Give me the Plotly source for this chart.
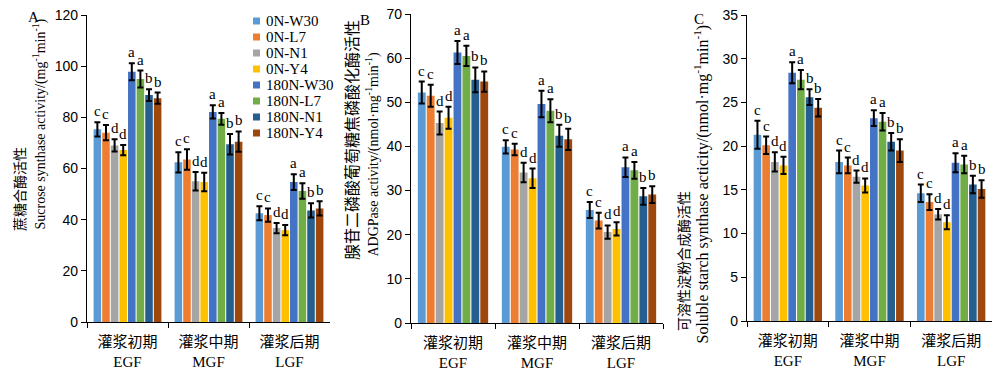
import plotly.graph_objects as go

series = ["0N-W30", "0N-L7", "0N-N1", "0N-Y4", "180N-W30", "180N-L7", "180N-N1", "180N-Y4"]
colors = ["#5B9BD5", "#ED7D31", "#A5A5A5", "#FFC000", "#4472C4", "#70AD47", "#255E91", "#9E480E"]
stages = ["EGF", "MGF", "LGF"]
stage_labels = ["灌浆初期<br>EGF", "灌浆中期<br>MGF", "灌浆后期<br>LGF"]
letters = ["c", "c", "d", "d", "a", "a", "b", "b"]

# Panel A: sucrose synthase activity (per series: EGF, MGF, LGF)
sus_mean = [
    [75.3, 62.4, 42.5], [74.0, 63.5, 41.8], [69.0, 55.0, 36.7], [67.2, 54.7, 35.9],
    [97.8, 82.1, 54.7], [95.0, 79.4, 51.2], [88.7, 69.5, 43.6], [87.5, 70.5, 44.4],
]
sus_err = [
    [2.8, 4.0, 2.7], [3.0, 4.0, 2.6], [2.4, 3.6, 2.0], [2.0, 3.6, 2.0],
    [3.3, 2.6, 3.1], [3.3, 2.3, 3.0], [2.3, 4.0, 2.8], [2.2, 4.0, 2.8],
]
# Panel B: ADGPase activity
adg_mean = [
    [52.2, 39.9, 25.6], [51.5, 39.3, 23.2], [45.3, 34.1, 20.6], [46.5, 32.8, 21.3],
    [61.3, 49.6, 35.3], [60.5, 48.1, 34.6], [55.1, 42.4, 28.7], [54.7, 41.6, 29.1],
]
adg_err = [
    [2.5, 1.5, 1.8], [2.5, 1.3, 1.8], [2.6, 2.2, 1.5], [2.5, 2.2, 1.5],
    [2.6, 3.0, 2.2], [2.3, 2.6, 1.9], [2.8, 2.5, 1.9], [2.3, 2.4, 1.9],
]
# Panel C: soluble starch synthase activity
sss_mean = [
    [21.3, 18.2, 14.6], [20.1, 17.8, 13.6], [18.2, 16.5, 12.2], [17.8, 15.5, 11.3],
    [28.4, 23.2, 18.1], [27.6, 22.8, 17.9], [25.6, 20.5, 15.6], [24.4, 19.5, 15.1],
]
sss_err = [
    [1.6, 1.3, 1.0], [1.0, 0.9, 0.9], [1.1, 0.7, 0.6], [1.0, 0.8, 0.8],
    [1.2, 0.9, 1.1], [1.1, 1.0, 1.0], [0.9, 1.0, 1.0], [1.0, 1.3, 1.0],
]

# The page body has a default 8 px margin: the figure starts at page (8, 8).
OFF = 8
W, H = 1000 - OFF, 373 - OFF
def px(x): return (x - OFF) / W
def py(y): return 1 - (y - OFF) / H

SERIF = "Times New Roman, Liberation Serif, Noto Sans CJK SC"
SANS = "Arial, Liberation Sans, Noto Sans CJK SC"

panels = [
    dict(mean=sus_mean, err=sus_err, xd=[px(87), px(330)], yd=[py(322), py(15)], rng=[0, 120], dt=20,
         label="A", lab_xy=(33, 17),
         ti_cn="蔗糖合酶活性", cn_xy=(20, 233), cn_size=14,
         ti_en="Sucrose synthase activity/(mg<sup>-1</sup>min<sup>-1</sup>)", en_xy=(40, 232), en_size=14),
    dict(mean=adg_mean, err=adg_err, xd=[px(411), px(663)], yd=[py(323), py(14)], rng=[0, 70], dt=10,
         label="B", lab_xy=(365, 20),
         ti_cn="腺苷二磷酸葡萄糖焦磷酸化酶活性", cn_xy=(352, 262), cn_size=16,
         ti_en="ADGPase activity/(nmol·mg<sup>-1</sup>min<sup>-1</sup>)", en_xy=(373, 259), en_size=14),
    dict(mean=sss_mean, err=sss_err, xd=[px(747), px(992)], yd=[py(321), py(15)], rng=[0, 35], dt=5,
         label="C", lab_xy=(699, 19),
         ti_cn="可溶性淀粉合成酶活性", cn_xy=(684, 333), cn_size=14,
         ti_en="Soluble starch synthase acticity/(nmol·mg<sup>-1</sup>min<sup>-1</sup>)", en_xy=(702, 346),
         en_size=16),
]

BARGAP = 0.15
GROUPGAP = 0.12
nser = len(series)

fig = go.Figure()
annotations = []
shapes = []

for p_i, p in enumerate(panels):
    suffix = "" if p_i == 0 else str(p_i + 1)
    xa, ya = "x" + suffix, "y" + suffix
    slot = (1 - BARGAP) / nser
    for k, name in enumerate(series):
        fig.add_trace(go.Bar(
            x=stages, y=p["mean"][k], name=name, marker_color=colors[k],
            marker_line_width=0, showlegend=False, xaxis=xa, yaxis=ya,
            error_y=dict(type="data", array=p["err"][k], color="black", thickness=2, width=3),
        ))
        # significance letters above error bars
        for c_i in range(len(stages)):
            xpos = c_i - (1 - BARGAP) / 2 + slot * (k + 0.5)
            annotations.append(dict(
                x=xpos, y=p["mean"][k][c_i] + p["err"][k][c_i], xref=xa, yref=ya,
                text=letters[k], showarrow=False, xanchor="center", yanchor="bottom", yshift=1,
                font=dict(family=SERIF, size=15, color="black"),
            ))
    fig.layout["xaxis" + suffix] = dict(
        domain=p["xd"], anchor=ya, type="category", tickvals=stages, ticktext=stage_labels,
        tickson="boundaries", ticks="outside", ticklen=5, tickcolor="black",
        ticklabelstandoff=6, automargin=False, ticklabeloverflow="allow",
        showline=True, linecolor="black", linewidth=1.2, showgrid=False,
        tickfont=dict(family=SERIF, size=15, color="black"),
    )
    fig.layout["yaxis" + suffix] = dict(
        domain=p["yd"], anchor=xa, range=p["rng"], dtick=p["dt"], ticks="outside", ticklen=5,
        automargin=False, ticklabeloverflow="allow",
        tickcolor="black", showline=True, linecolor="black", linewidth=1.2, showgrid=False,
        zeroline=False, tickfont=dict(family=SANS, size=14, color="black"),
    )
    annotations.append(dict(x=px(p["lab_xy"][0]), y=py(p["lab_xy"][1]), xref="paper", yref="paper",
                            text=p["label"], showarrow=False, xanchor="center", yanchor="middle",
                            font=dict(family=SERIF, size=15, color="black")))
    annotations.append(dict(x=px(p["cn_xy"][0]), y=py(p["cn_xy"][1]), xref="paper", yref="paper",
                            text=p["ti_cn"], textangle=-90, showarrow=False, xanchor="center",
                            yanchor="bottom", font=dict(family=SERIF, size=p["cn_size"], color="black")))
    annotations.append(dict(x=px(p["en_xy"][0]), y=py(p["en_xy"][1]), xref="paper", yref="paper",
                            text=p["ti_en"], textangle=-90, showarrow=False, xanchor="center",
                            yanchor="bottom", font=dict(family=SERIF, size=p["en_size"], color="black")))

# manual legend (panel A, top right)
for k, name in enumerate(series):
    yc = 21 + 16 * k
    shapes.append(dict(type="rect", xref="paper", yref="paper",
                       x0=px(253), x1=px(260), y0=py(yc + 3.5), y1=py(yc - 3.5),
                       fillcolor=colors[k], line_width=0))
    annotations.append(dict(x=px(264), y=py(yc), xref="paper", yref="paper", text=name,
                            showarrow=False, xanchor="left", yanchor="middle",
                            font=dict(family=SERIF, size=15, color="black")))

fig.update_layout(
    width=W, height=H, autosize=False, margin=dict(l=0, r=0, t=0, b=0, autoexpand=False),
    paper_bgcolor="white", plot_bgcolor="white",
    barmode="group", bargap=BARGAP, bargroupgap=GROUPGAP,
    annotations=annotations, shapes=shapes, showlegend=False,
)

fig.write_html("out.html")
